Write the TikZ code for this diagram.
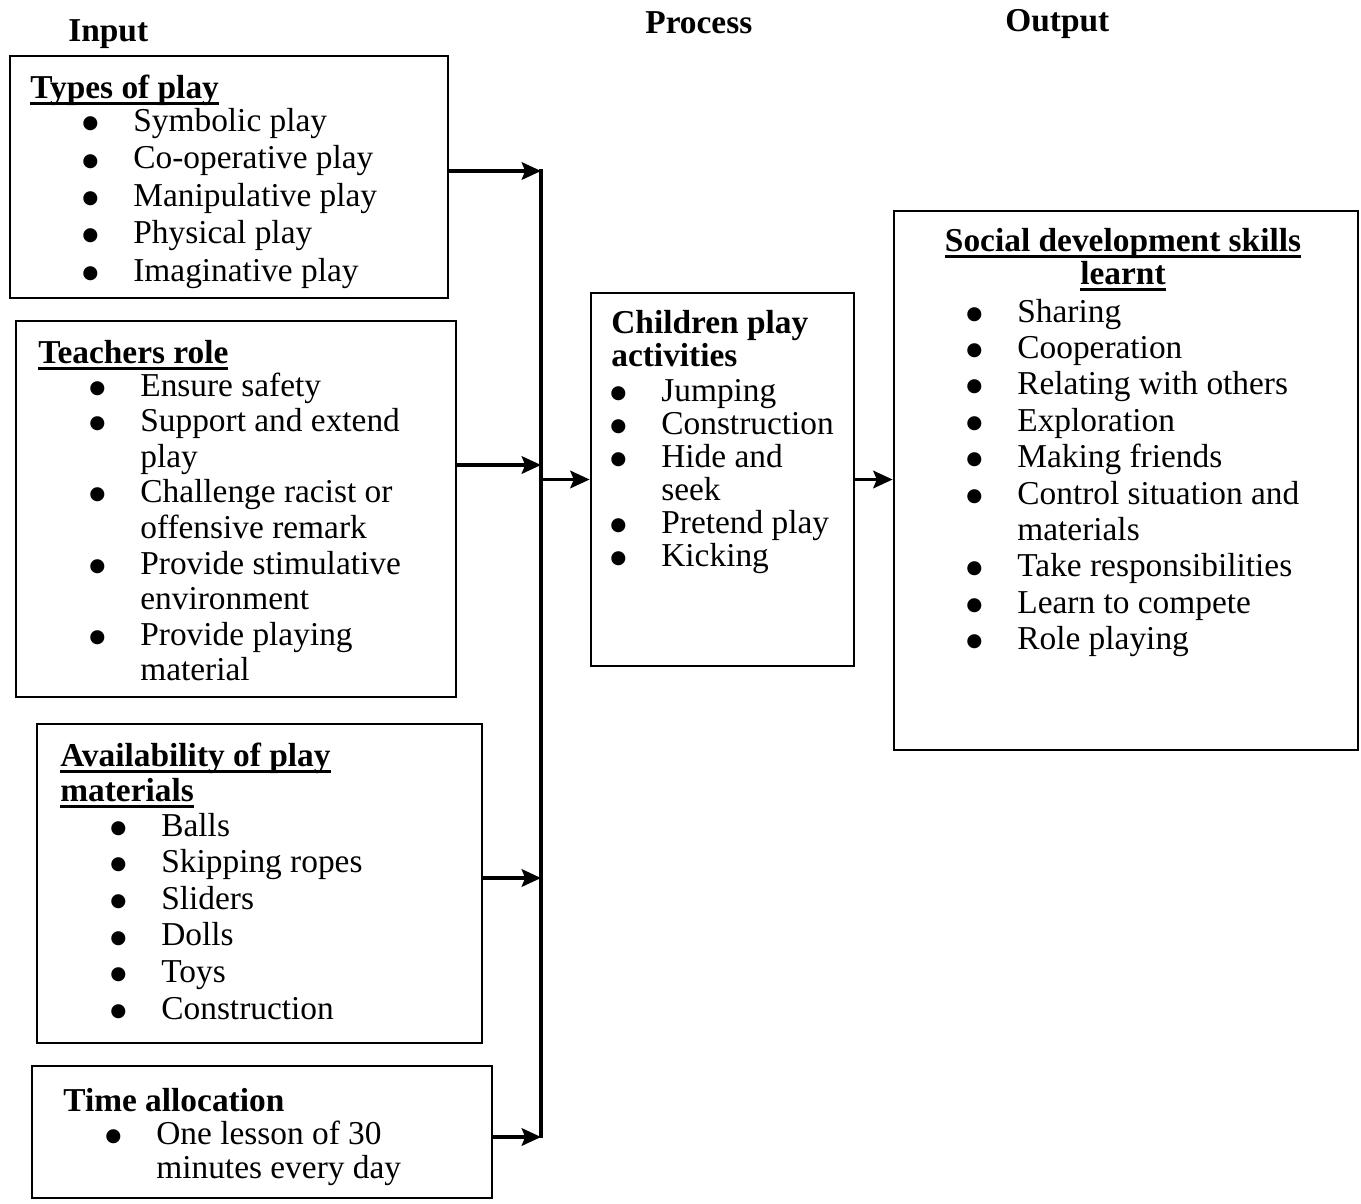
\documentclass[tikz,border=0pt]{standalone}
\usepackage{fontspec}
\setmainfont{Liberation Serif}
\newfontfamily\dotfont{DejaVu Sans}
\usetikzlibrary{arrows.meta,fit}

\tikzset{
  box/.style = {draw, line width=1.6pt, inner sep=0pt},
  txt/.style = {anchor=base west, inner sep=0pt, font=\fontsize{19}{21}\selectfont},
  hd/.style  = {txt, font=\fontsize{19}{21}\selectfont\bfseries},
  arr/.style = {line width=1.8pt, -{Stealth[length=11pt,width=10pt,inset=2pt]}},
}
\newcommand{\itm}{\llap{\makebox[1.72cm]{\raisebox{1.6pt}{\dotfont\fontsize{10.5}{11}\selectfont ●}}}}
\newcommand{\hdline}[1]{\setbox0\hbox{#1}\rlap{\rule[-4pt]{\wd0}{1.5pt}}\box0}

\begin{document}
\begin{tikzpicture}[x=0.02cm, y=-0.02cm]
  \useasboundingbox (0,0) rectangle (1361,1203);
  % column titles
  \node[hd] (input) at (68,42) {Input};
  \node[hd] (process) at (645,34) {Process};
  \node[hd] (output) at (1005,32) {Output};

  % input boxes
  \node[box, fit={(10,56) (448,298)}] (types) {};
  \node[hd] (types-h) at (30,98) {\hdline{Types of play}};
  \foreach[count=\i from 0] \t in {Symbolic play, Co-operative play,
    Manipulative play, Physical play, Imaginative play}
    \node[txt] (types-\i) at (133,131.5+37.4*\i) {\itm\t};

  \node[box, fit={(16,321) (456,697)}] (role) {};
  \node[hd] (role-h) at (38,363) {\hdline{Teachers role}};
  \foreach[count=\i from 0] \t in {\itm Ensure safety, \itm Support and extend,
    play, \itm Challenge racist or, offensive remark, \itm Provide stimulative,
    environment, \itm Provide playing, material}
    \node[txt] (role-\i) at (140,396+35.6*\i) {\t};

  \node[box, fit={(37,724) (482,1043)}] (mat) {};
  \node[hd] (mat-h1) at (60,766) {\hdline{Availability of play}};
  \node[hd] (mat-h2) at (60,801) {\hdline{materials}};
  \foreach[count=\i from 0] \t in {Balls, Skipping ropes, Sliders, Dolls,
    Toys, Construction}
    \node[txt] (mat-\i) at (161,836+36.6*\i) {\itm\t};

  \node[box, fit={(32,1066) (492,1198)}] (time) {};
  \node[hd] (time-h) at (63,1111) {Time allocation};
  \node[txt] (time-0) at (156,1144) {\itm One lesson of 30};
  \node[txt] (time-1) at (156,1178) {minutes every day};

  % process box
  \node[box, fit={(591,293) (854,666)}] (act) {};
  \node[hd] (act-h1) at (611,333) {Children play};
  \node[hd] (act-h2) at (611,366) {activities};
  \foreach[count=\i from 0] \t in {\itm Jumping, \itm Construction, \itm Hide and,
    seek, \itm Pretend play, \itm Kicking}
    \node[txt] (act-\i) at (661,401+33*\i) {\t};

  % output box
  \node[box, fit={(894,211) (1358,750)}] (skills) {};
  \node[hd, anchor=base] (skills-h1) at (1123,251) {\hdline{Social development skills}};
  \node[hd, anchor=base] (skills-h2) at (1123,284) {\hdline{learnt}};
  \foreach[count=\i from 0] \t in {\itm Sharing, \itm Cooperation,
    \itm Relating with others, \itm Exploration, \itm Making friends,
    \itm Control situation and, materials, \itm Take responsibilities,
    \itm Learn to compete, \itm Role playing}
    \node[txt] (skills-\i) at (1017,322+36.4*\i) {\t};

  % connectors
  \coordinate (bustop) at (541,169);
  \coordinate (busbot) at (541,1138);
  \coordinate (in1) at (541,171);
  \coordinate (in2) at (541,465);
  \coordinate (in3) at (541,878);
  \coordinate (in4) at (541,1137);
  \draw[line width=1.8pt] (bustop) -- (busbot);
  \draw[arr] (types.east |- in1) -- (in1);
  \draw[arr] (role.east |- in2) -- (in2);
  \draw[arr] (mat.east |- in3) -- (in3);
  \draw[arr] (time.east |- in4) -- (in4);
  \draw[arr] (act.west -| bustop) -- (act.west);
  \draw[arr] (act.east) -- (act.east -| skills.west);
\end{tikzpicture}
\end{document}
